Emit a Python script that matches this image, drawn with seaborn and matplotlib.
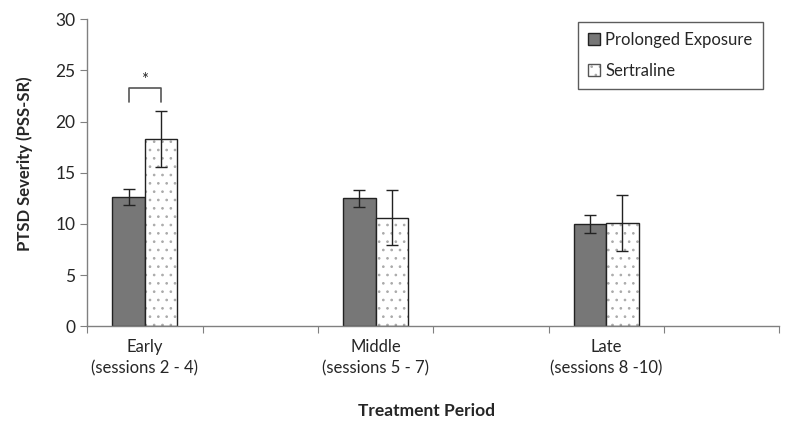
import numpy as np
import pandas as pd
import seaborn as sns
import matplotlib.pyplot as plt
from matplotlib.colors import to_rgba
from matplotlib.patches import Patch

# Data
periods = ['Early', 'Middle', 'Late']
period_labels = ['Early\n(sessions 2 - 4)', 'Middle\n(sessions 5 - 7)', 'Late\n(sessions 8 -10)']
groups = ['Prolonged Exposure', 'Sertraline']
pe_mean = [12.6, 12.5, 10.0]
pe_err = [0.8, 0.8, 0.9]
sert_mean = [18.3, 10.6, 10.1]
sert_err = [2.7, 2.7, 2.7]

# Excel-style layout: an empty slot after every period
slots = ['Early', 'gap1', 'Middle', 'gap2', 'Late', 'gap3']

df = pd.DataFrame({
    'Period': periods * 2,
    'Group': [groups[0]] * 3 + [groups[1]] * 3,
    'Score': pe_mean + sert_mean,
    'Err': pe_err + sert_err,
})

sns.set_style('white')
plt.rcParams['font.family'] = ['Lato', 'DejaVu Sans']
plt.rcParams['hatch.linewidth'] = 0.7
dot_color = to_rgba('#aaaaaa')

fig = plt.figure(figsize=(8, 4.44), dpi=100)
ax = fig.add_axes([0.109, 0.265, 0.865, 0.692])

sns.barplot(data=df, x='Period', y='Score', hue='Group', order=slots,
            hue_order=groups, palette=['#777777', 'white'], errorbar=None,
            width=0.565, gap=0, edgecolor='#222222', linewidth=1.0,
            legend=False, ax=ax)

# dotted fill for sertraline bars and error bars from the bar positions
for container, g in zip(ax.containers, groups):
    sub = df[df['Group'] == g].set_index('Period')
    for bar, name in zip(container, [s for s in slots if s in periods]):
        if g == 'Sertraline':
            bar.set_hatch('..')
            bar._hatch_color = dot_color  # mpl 3.10: hatch follows edgecolor otherwise
        xc = bar.get_x() + bar.get_width() / 2
        ax.errorbar(xc, sub.loc[name, 'Score'], yerr=sub.loc[name, 'Err'],
                    fmt='none', ecolor='#222222', elinewidth=1.0, capsize=4, capthick=1.0)

# significance bracket over the early bars
early = [c[0] for c in ax.containers]
x1 = early[0].get_x() + early[0].get_width() / 2
x2 = early[1].get_x() + early[1].get_width() / 2
ax.plot([x1, x1, x2, x2], [21.9, 23.3, 23.3, 21.9], color='#555555', lw=1.2)
ax.text((x1 + x2) / 2, 23.3, '*', ha='center', va='bottom', fontsize=12)

ax.set_xlim(-0.5, 5.5)
ax.set_ylim(0, 30)
ax.set_yticks(range(0, 31, 5))
ax.set_xticks(np.arange(-0.5, 6, 1))
ax.set_xticklabels([])
ax.set_xticks([0, 2, 4], minor=True)
ax.set_xticklabels(period_labels, minor=True, linespacing=1.45)
ax.tick_params(axis='x', which='minor', length=0, pad=9, labelsize=12)
ax.tick_params(axis='x', which='major', direction='out', length=5, color='#808080', bottom=True)
ax.tick_params(axis='y', direction='out', length=5, color='#808080', left=True, labelsize=12.5)

for side in ['top', 'right']:
    ax.spines[side].set_visible(False)
for side in ['left', 'bottom']:
    ax.spines[side].set_color('#808080')
    ax.spines[side].set_linewidth(1.0)

ax.set_xlabel('Treatment Period', fontweight='bold', fontsize=12.5)
ax.set_ylabel('PTSD Severity (PSS-SR)', fontweight='bold', fontsize=12)
ax.yaxis.set_label_coords(-0.078, 0.53)
ax.xaxis.set_label_coords(0.49, -0.25)

sert_handle = Patch(facecolor='white', edgecolor='#555555', hatch='..', label=groups[1])
sert_handle._hatch_color = dot_color
handles = [Patch(facecolor='#777777', edgecolor='#222222', label=groups[0]), sert_handle]
leg = ax.legend(handles=handles, loc='upper right', bbox_to_anchor=(0.988, 1.018),
                fontsize=12, frameon=True, fancybox=False, handlelength=0.75,
                handleheight=0.75, handletextpad=0.3, labelspacing=0.9, borderpad=0.6)
leg.get_frame().set_edgecolor('#333333')
leg.get_frame().set_linewidth(1.0)

plt.savefig('out.png', dpi=100)
